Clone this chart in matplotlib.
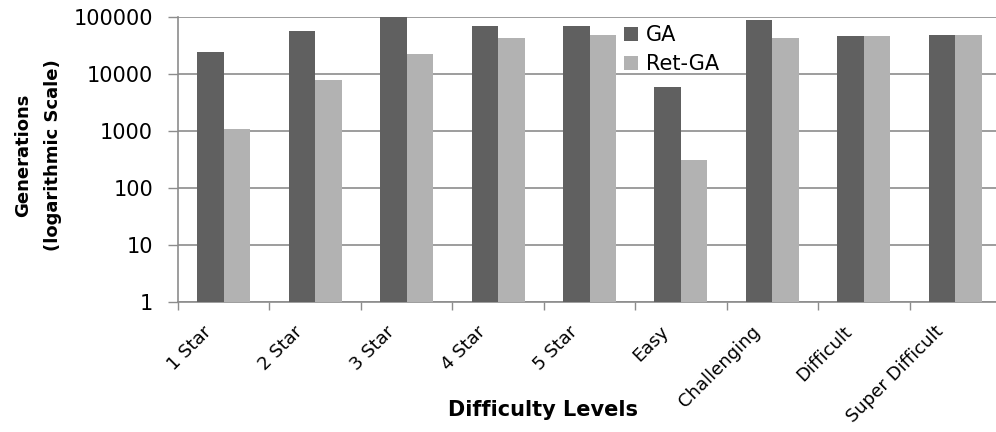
import matplotlib
matplotlib.use("Agg")
import matplotlib.pyplot as plt
import matplotlib.transforms as mtransforms
import numpy as np

categories = ["1 Star", "2 Star", "3 Star", "4 Star", "5 Star", "Easy",
              "Challenging", "Difficult", "Super Difficult"]
ga = [24000, 56500, 99000, 69000, 69000, 5900, 89000, 46500, 48000]
ret_ga = [1085, 7800, 22400, 43000, 48000, 310, 43000, 46500, 48000]
yticks = [1, 10, 100, 1000, 10000, 100000]
ytick_labels = ["1", "10", "100", "1000", "10000", "100000"]

W, H = 996, 432
fig = plt.figure(figsize=(W / 100, H / 100), dpi=100)
ax = fig.add_axes([178 / W, 1 - 302 / H, (1001 - 178) / W, (302 - 17) / H])

font = "DejaVu Sans"
dark = "#606060"
light = "#b2b2b2"
grid = "#8c8c8c"

x = np.arange(len(categories)) + 0.5
w = 0.29
ax.bar(x - w / 2, ga, width=w, color=dark, label="GA", zorder=3)
ax.bar(x + w / 2, ret_ga, width=w, color=light, label="Ret-GA", zorder=3)

ax.set_yscale("log")
ax.set_ylim(1, 100000)
ax.set_xlim(0, len(categories))
ax.set_yticks(yticks)
ax.set_yticklabels(ytick_labels, fontsize=15, family=font)
ax.yaxis.set_minor_locator(matplotlib.ticker.NullLocator())
ax.tick_params(axis="y", length=7, color=grid, width=1, pad=11)
ax.yaxis.grid(True, color=grid, linewidth=1.2, zorder=0)

ax.set_xticks(np.arange(len(categories) + 1))
ax.set_xticklabels([])
ax.tick_params(axis="x", length=6, color=grid, width=1)

for s in ["top", "right"]:
    ax.spines[s].set_visible(False)
for s in ["left", "bottom"]:
    ax.spines[s].set_color(grid)
    ax.spines[s].set_linewidth(1.2)

off = mtransforms.ScaledTranslation(-15 / 100, -27 / 100, fig.dpi_scale_trans)
trans = mtransforms.blended_transform_factory(ax.transData, ax.transAxes) + off
for xi, lab in zip(x, categories):
    ax.text(xi, 0, lab, transform=trans, rotation=45, ha="right", va="center",
            rotation_mode="anchor", fontsize=13, family=font)

fig.text(38 / W, 1 - 155 / H, "Generations\n(logarithmic Scale)", rotation=90,
         ha="center", va="center", fontsize=13, fontweight="bold",
         family=font, linespacing=1.9)
fig.text(543 / W, 1 - 410 / H, "Difficulty Levels", ha="center", va="center",
         fontsize=15, fontweight="bold", family=font)

fig.legend(loc="upper left", bbox_to_anchor=(624 / W, 1 - 25 / H),
           frameon=False, prop={"family": font, "size": 15},
           handlelength=0.65, handleheight=0.65, handletextpad=0.4,
           labelspacing=0.45, borderaxespad=0, borderpad=0)

fig.savefig("out.png", dpi=100, facecolor="white")
